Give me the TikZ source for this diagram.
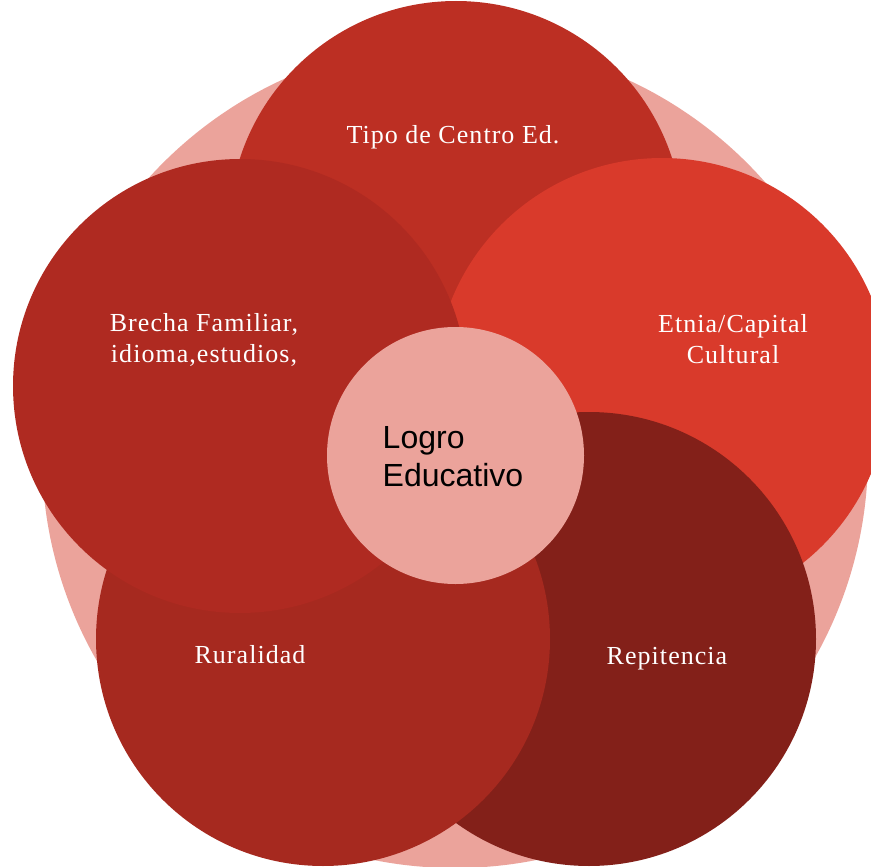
\documentclass[tikz,border=0pt]{standalone}
\usepackage{fontspec}
\setmainfont{Liberation Serif}
\newfontfamily\arialfont{Liberation Sans}
\usepackage{tikz}
\usetikzlibrary{positioning}

\definecolor{ringpink}{HTML}{EBA39B}
\definecolor{tipored}{HTML}{BC2F23}
\definecolor{etniared}{HTML}{D93A2B}
\definecolor{repitred}{HTML}{832019}
\definecolor{ruralred}{HTML}{A6291F}
\definecolor{brechared}{HTML}{AF2A21}

\tikzset{
  bubble/.style={circle, inner sep=0pt, minimum size=454pt},
  bubbletext/.style={text=white, align=center,
    font=\addfontfeatures{LetterSpace=4}\fontsize{26}{31}\selectfont},
}

\begin{document}
\begin{tikzpicture}[x=1pt, y=1pt]
    \useasboundingbox (0, 0) rectangle (871, -867);

    \fill[ringpink] (455, -455) circle (413);

    \node[bubble, fill=tipored] (tipo) at (456, -228) {};
    \node[bubble, fill=etniared] (etnia) at (662, -385) {};
    \node[bubble, fill=repitred] (repit) at (589, -639) {};
    \node[bubble, fill=ruralred] (rural) at (323, -639) {};
    \node[bubble, fill=brechared] (brecha) at (240, -386) {};

    \node[circle, inner sep=0pt, minimum size=257pt, fill=ringpink] (logro) at (455.5, -455.5) {};

    \node[bubbletext] (tipolbl) at (453, -137) {Tipo de Centro Ed.};
    \node[bubbletext] (etnialbl) at (733, -339) {Etnia/Capital\\Cultural};
    \node[bubbletext] (brechalbl) at (204, -340) {Brecha Familiar,\\idioma,estudios,};
    \node[bubbletext] (rurallbl) at (250, -655) {Ruralidad};
    \node[bubbletext] (repitlbl) at (667, -659) {Repitencia};

    \node[align=left, font=\arialfont\fontsize{32}{38}\selectfont] (logrolbl) at (453, -457) {Logro\\Educativo};

\end{tikzpicture}
\end{document}
